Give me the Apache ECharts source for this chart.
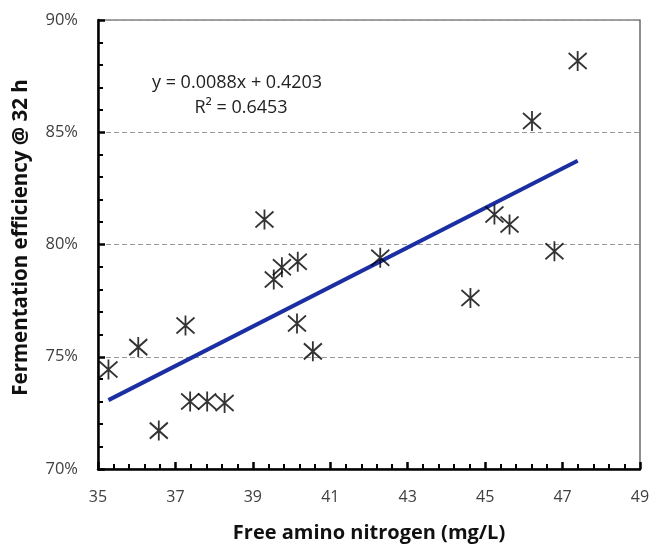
<!DOCTYPE html>
<html>
<head>
<meta charset="utf-8">
<script src="https://cdn.jsdelivr.net/npm/echarts@6/dist/echarts.min.js"></script>
<style>html,body{margin:0;padding:0;background:#fff}#c{width:652px;height:544px}</style>
</head>
<body>
<div id="c"></div>
<script>
// Free amino nitrogen (mg/L)
const fanValues = [35.27, 36.04, 36.57, 37.26, 37.38, 37.82, 38.27, 39.30, 39.54, 39.75, 40.16, 40.14, 40.55, 42.29, 44.62, 45.24, 45.63, 46.79, 46.21, 47.39];
// Fermentation efficiency @ 32 h (%)
const effValues = [74.43, 75.43, 71.71, 76.39, 73.01, 73.01, 72.94, 81.11, 78.44, 78.99, 79.23, 76.48, 75.24, 79.41, 77.62, 81.34, 80.89, 79.70, 85.50, 88.17];
const slope = 0.0088, intercept = 0.4203;
const equationText = 'y = 0.0088x + 0.4203';
const r2Text = 'R² = 0.6453';

const xMin = Math.min(...fanValues), xMax = Math.max(...fanValues);
const trend = [[xMin, (slope * xMin + intercept) * 100], [xMax, (slope * xMax + intercept) * 100]];
const points = fanValues.map((v, i) => [v, effValues[i]]);

const chart = echarts.init(document.getElementById('c'), null, {renderer: 'canvas'});
const font = '"Open Sans", sans-serif';
chart.setOption({
  animation: false,
  backgroundColor: '#fff',
  grid: {left: 98, right: 12, top: 20, bottom: 75, containLabel: false, outerBoundsMode: 'none',
         show: true, borderColor: '#444', borderWidth: 1.2},
  xAxis: {
    type: 'value', min: 35, max: 49, interval: 2,
    name: 'Free amino nitrogen (mg/L)', nameLocation: 'middle', nameGap: 54,
    nameTextStyle: {fontFamily: font, fontSize: 20, fontWeight: 'bold', color: '#111'},
    axisLine: {show: true, lineStyle: {color: '#000', width: 2.5}},
    axisTick: {show: true, inside: true, length: 7, lineStyle: {color: '#000', width: 2.5}},
    minorTick: {show: true, splitNumber: 5, length: 5, lineStyle: {color: '#000', width: 2}},
    axisLabel: {fontFamily: font, fontSize: 16, color: '#404040', margin: 20},
    splitLine: {show: false}
  },
  yAxis: {
    type: 'value', min: 70, max: 90, interval: 5,
    name: 'Fermentation efficiency @ 32 h', nameLocation: 'middle', nameGap: 66,
    nameTextStyle: {fontFamily: font, fontSize: 20.5, fontWeight: 'bold', color: '#111', padding: [0, 0, 0, 14]},
    axisLine: {show: true, lineStyle: {color: '#000', width: 2.5}},
    axisTick: {show: true, inside: true, length: 7, lineStyle: {color: '#000', width: 2.5}},
    minorTick: {show: true, splitNumber: 5, length: 5, lineStyle: {color: '#000', width: 2}},
    axisLabel: {fontFamily: font, fontSize: 16.5, color: '#404040', margin: 20, formatter: '{value}%'},
    splitLine: {show: true, lineStyle: {color: '#999', type: [5, 3], width: 1.2}}
  },
  graphic: [
    {type: 'text', x: 237, y: 83, style: {text: equationText, font: '18px ' + font, fill: '#222', align: 'center', verticalAlign: 'middle'}},
    {type: 'text', x: 241, y: 108, style: {text: r2Text, font: '18px ' + font, fill: '#222', align: 'center', verticalAlign: 'middle'}}
  ],
  series: [
    {
      type: 'line', data: trend, symbol: 'none', z: 2,
      lineStyle: {color: '#1c2fa2', width: 4}
    },
    {
      type: 'scatter', data: points, z: 3,
      symbol: 'path://M9,0L9,20M0,2L18,18M0,18L18,2',
      symbolSize: [18, 20],
      itemStyle: {color: 'rgba(0,0,0,0)', borderColor: '#000', borderWidth: 1.9}
    }
  ]
});
</script>
</body>
</html>
